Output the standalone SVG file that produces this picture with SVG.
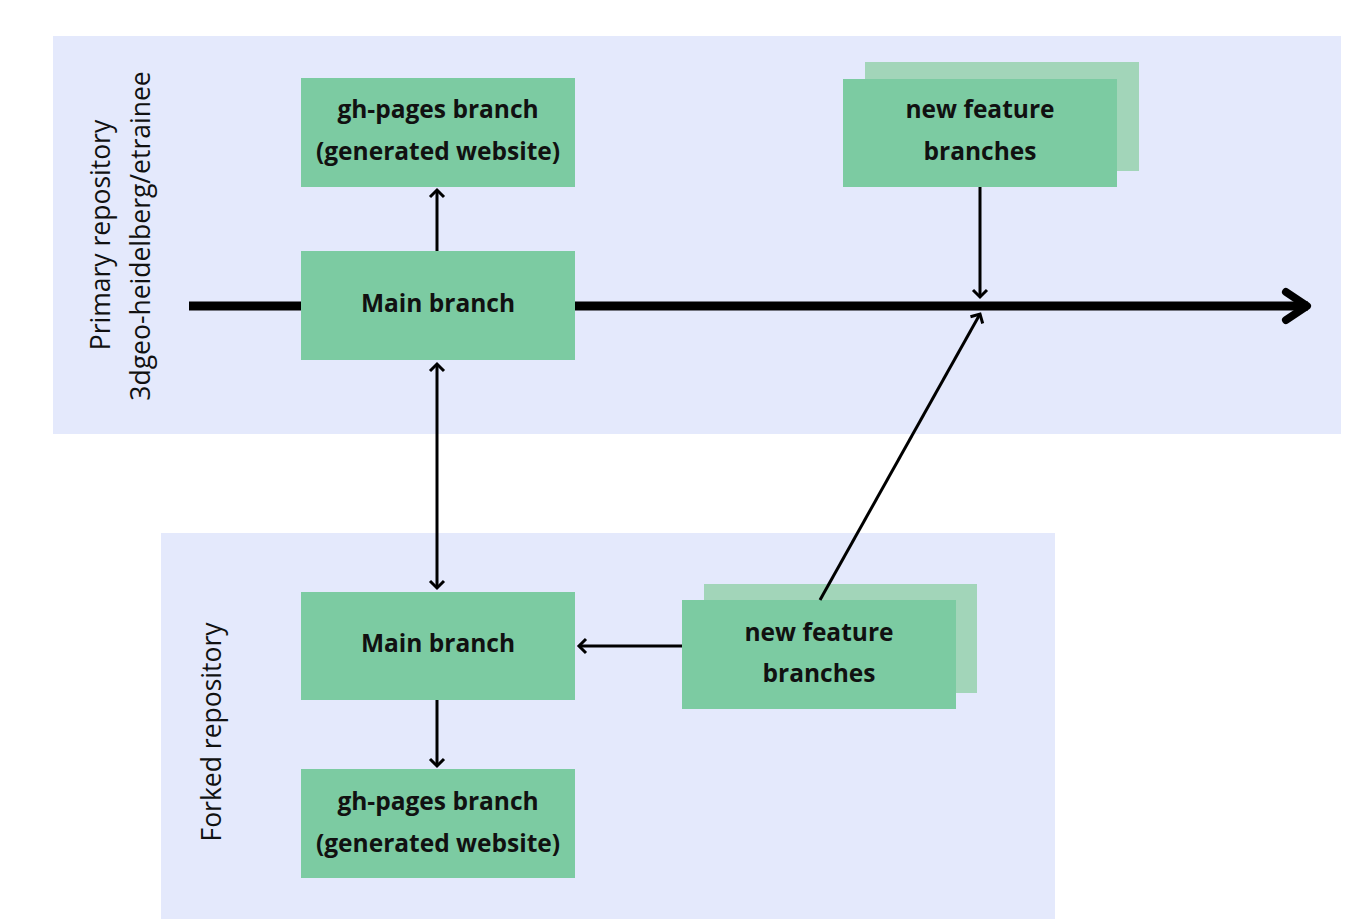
<svg xmlns="http://www.w3.org/2000/svg" width="1369" height="919" viewBox="0 0 1369 919">
<style>
.panel{fill:#E4E9FC}
.box{fill:#7CCBA2}
.back{fill:#A2D5B9}
.t{font-family:"Open Sans","Liberation Sans",sans-serif;font-weight:700;font-size:24.5px;fill:#111;text-anchor:middle}
.lbl{font-family:"Open Sans","Liberation Sans",sans-serif;font-weight:500;font-size:26.5px;fill:#111;text-anchor:middle}
.c{stroke:#000;stroke-width:3;fill:none}
</style>
<defs>
<marker id="ahs" markerWidth="20" markerHeight="20" refX="10" refY="10" orient="auto-start-reverse" markerUnits="userSpaceOnUse" viewBox="0 0 20 20">
<path d="M3,3 L10,10 L3,17" fill="none" stroke="#000" stroke-width="3"/>
</marker>
<marker id="big" markerWidth="40" markerHeight="40" refX="30" refY="20" orient="auto" markerUnits="userSpaceOnUse" viewBox="0 0 40 40">
<path d="M8,6 L29,20 L8,34" fill="none" stroke="#000" stroke-width="8" stroke-linecap="round" stroke-linejoin="round"/>
</marker>
</defs>
<rect width="1369" height="919" fill="#fff"/>
<g id="primary-panel">
<rect class="panel" x="53" y="36" width="1288" height="398"/>
<text class="lbl" transform="translate(110,235) rotate(-90)">Primary repository</text>
<text class="lbl" transform="translate(150,236) rotate(-90)">3dgeo-heidelberg/etrainee</text>
</g>
<g id="forked-panel">
<rect class="panel" x="161" y="533" width="894" height="386"/>
<text class="lbl" transform="translate(221,732) rotate(-90)">Forked repository</text>
</g>
<g id="gh-pages-primary">
<rect class="box" x="301" y="78" width="274" height="109"/>
<text class="t" x="438" y="118">gh-pages branch</text>
<text class="t" x="438" y="160">(generated website)</text>
</g>
<g id="main-primary">
<rect class="box" x="301" y="251" width="274" height="109"/>
<text class="t" x="438" y="312">Main branch</text>
</g>
<g id="feature-primary">
<rect class="back" x="865" y="62" width="274" height="109"/>
<rect class="box" x="843" y="79" width="274" height="108"/>
<text class="t" x="980" y="118">new feature</text>
<text class="t" x="980" y="160">branches</text>
</g>
<g id="main-forked">
<rect class="box" x="301" y="592" width="274" height="108"/>
<text class="t" x="438" y="652">Main branch</text>
</g>
<g id="gh-pages-forked">
<rect class="box" x="301" y="769" width="274" height="109"/>
<text class="t" x="438" y="810">gh-pages branch</text>
<text class="t" x="438" y="852">(generated website)</text>
</g>
<g id="feature-forked">
<rect class="back" x="704" y="584" width="273" height="109"/>
<rect class="box" x="682" y="600" width="274" height="109"/>
<text class="t" x="819" y="641">new feature</text>
<text class="t" x="819" y="682">branches</text>
</g>
<g id="connectors">
<line x1="189" y1="306" x2="301" y2="306" stroke="#000" stroke-width="9"/>
<line x1="575" y1="306" x2="1308" y2="306" stroke="#000" stroke-width="9" marker-end="url(#big)"/>
<line class="c" x1="437" y1="251" x2="437" y2="190" marker-end="url(#ahs)"/>
<line class="c" x1="437" y1="364" x2="437" y2="588" marker-start="url(#ahs)" marker-end="url(#ahs)"/>
<line class="c" x1="980" y1="187" x2="980" y2="297" marker-end="url(#ahs)"/>
<line class="c" x1="820" y1="600" x2="980" y2="314" marker-end="url(#ahs)"/>
<line class="c" x1="682" y1="646" x2="579" y2="646" marker-end="url(#ahs)"/>
<line class="c" x1="437" y1="700" x2="437" y2="766" marker-end="url(#ahs)"/>
</g>
</svg>
